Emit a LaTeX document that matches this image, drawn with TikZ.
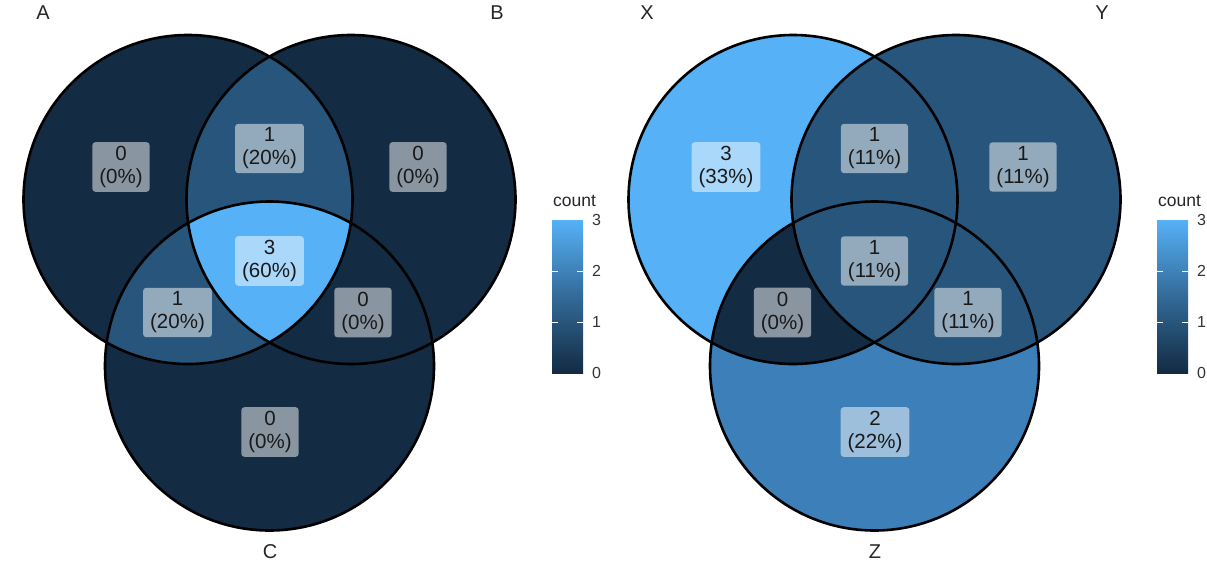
\documentclass[tikz,border=0pt]{standalone}
\usepackage{fontspec}
\setmainfont{Liberation Sans}
\definecolor{c0}{HTML}{132B43}
\definecolor{c1}{HTML}{27557C}
\definecolor{c2}{HTML}{3D80B9}
\definecolor{c3}{HTML}{56B1F7}
\definecolor{cm}{HTML}{336A98}
\tikzset{
  vennline/.style={draw=black, line width=2.6pt},
  cntlab/.style={fill=white, fill opacity=0.5, text opacity=1, rounded corners=3pt, align=center,
    inner xsep=7pt, inner ysep=4pt, font=\fontsize{20.5}{23}\selectfont, text=black!90},
  setlab/.style={font=\fontsize{20}{24}\selectfont, text=black!85},
  legtitle/.style={font=\fontsize{17.5}{20}\selectfont, anchor=base west, text=black!85, inner sep=0pt},
  ticklab/.style={font=\fontsize{16}{18}\selectfont, anchor=west, text=black!80, inner sep=0pt},
  tickmark/.style={draw=white, line width=0.9pt},
}
\begin{document}
\begin{tikzpicture}[x=1pt,y=-1pt]
\useasboundingbox (0,0) rectangle (1207,568);
\def\rr{164.5pt}
% ---------------- left panel ----------------
\coordinate (A) at (188,199.5);
\coordinate (B) at (351,199.5);
\coordinate (C) at (269.5,366);
\fill[c0] (A) circle (\rr);
\fill[c0] (B) circle (\rr);
\fill[c0] (C) circle (\rr);
\begin{scope}
  \clip (A) circle (\rr);
  \fill[c1] (B) circle (\rr);
  \fill[c1] (C) circle (\rr);
  \clip (B) circle (\rr);
  \fill[c3] (C) circle (\rr);
\end{scope}
\draw[vennline] (A) circle (\rr);
\draw[vennline] (B) circle (\rr);
\draw[vennline] (C) circle (\rr);
\node[cntlab] (lA)   at (121,167)   {0\\(0\%)};
\node[cntlab] (lAB)  at (269.5,148.5) {1\\(20\%)};
\node[cntlab] (lB)   at (418,167)   {0\\(0\%)};
\node[cntlab] (lABC) at (269.5,261) {3\\(60\%)};
\node[cntlab] (lAC)  at (177.5,312.5) {1\\(20\%)};
\node[cntlab] (lBC)  at (363,312.5) {0\\(0\%)};
\node[cntlab] (lC)   at (270,432)   {0\\(0\%)};
\node[setlab] (nA) at (43,13) {A};
\node[setlab] (nB) at (497,13) {B};
\node[setlab] (nC) at (270,552) {C};
% legend left
\node[legtitle] (lcount) at (553,206) {count};
\shade[bottom color=c0, top color=c3, middle color=cm] (552,220) rectangle (583,373);
\draw[tickmark] (552,322) -- (558,322) (577,322) -- (583,322);
\draw[tickmark] (552,271) -- (558,271) (577,271) -- (583,271);
\node[ticklab] (lt3) at (592,220) {3};
\node[ticklab] (lt2) at (592,271) {2};
\node[ticklab] (lt1) at (592,322) {1};
\node[ticklab] (lt0) at (592,373) {0};
% ---------------- right panel ----------------
\begin{scope}[shift={(605,0)}]
\coordinate (X) at (188,199.5);
\coordinate (Y) at (351,199.5);
\coordinate (Z) at (269.5,366);
\fill[c3] (X) circle (\rr);
\fill[c1] (Y) circle (\rr);
\fill[c2] (Z) circle (\rr);
\begin{scope}
  \clip (Z) circle (\rr);
  \fill[c0] (X) circle (\rr);
  \fill[c1] (Y) circle (\rr);
\end{scope}
\draw[vennline] (X) circle (\rr);
\draw[vennline] (Y) circle (\rr);
\draw[vennline] (Z) circle (\rr);
\node[cntlab] (rX)   at (121,167)   {3\\(33\%)};
\node[cntlab] (rXY)  at (269.5,148.5) {1\\(11\%)};
\node[cntlab] (rY)   at (418,167)   {1\\(11\%)};
\node[cntlab] (rXYZ) at (269.5,261) {1\\(11\%)};
\node[cntlab] (rXZ)  at (177.5,312.5) {0\\(0\%)};
\node[cntlab] (rYZ)  at (363,312.5) {1\\(11\%)};
\node[cntlab] (rZ)   at (270,432)   {2\\(22\%)};
\node[setlab] (nX) at (42,13) {X};
\node[setlab] (nY) at (497,13) {Y};
\node[setlab] (nZ) at (270,552) {Z};
% legend right
\node[legtitle] (rcount) at (553,206) {count};
\shade[bottom color=c0, top color=c3, middle color=cm] (552,220) rectangle (583,373);
\draw[tickmark] (552,322) -- (558,322) (577,322) -- (583,322);
\draw[tickmark] (552,271) -- (558,271) (577,271) -- (583,271);
\node[ticklab] (rt3) at (592,220) {3};
\node[ticklab] (rt2) at (592,271) {2};
\node[ticklab] (rt1) at (592,322) {1};
\node[ticklab] (rt0) at (592,373) {0};
\end{scope}
\end{tikzpicture}
\end{document}
